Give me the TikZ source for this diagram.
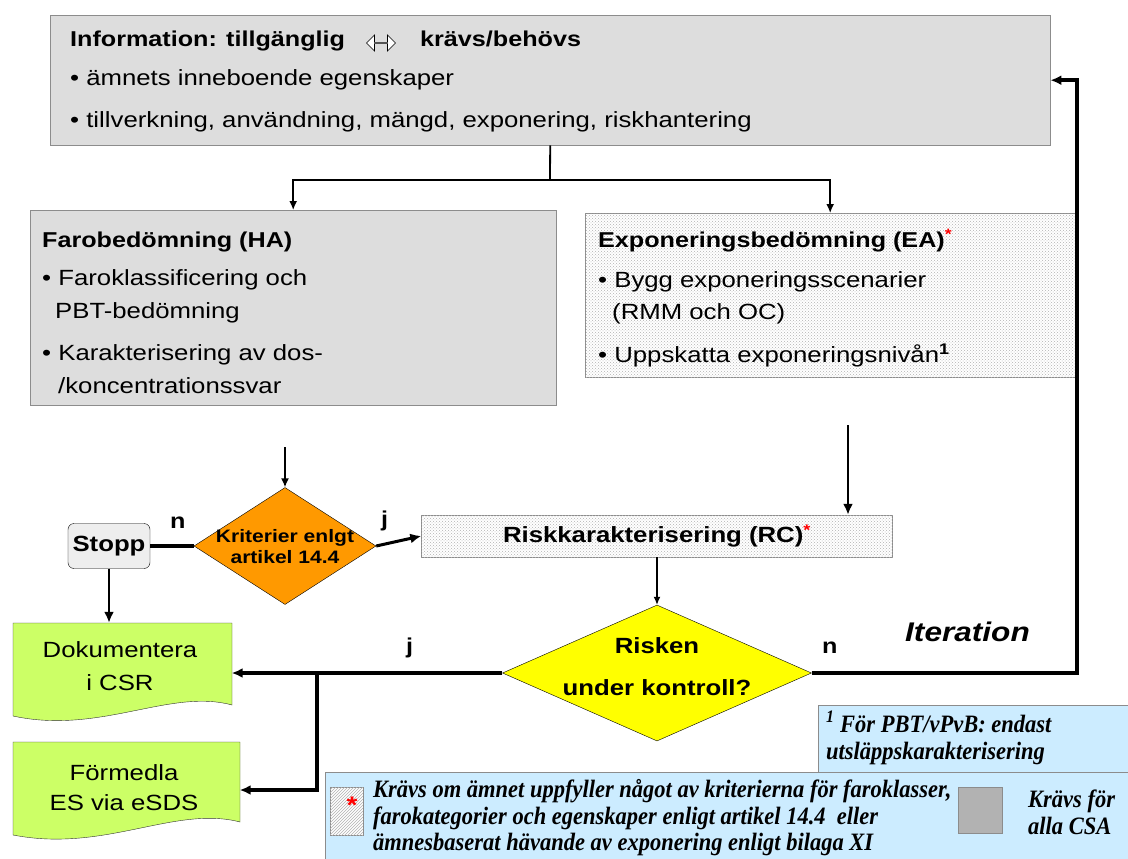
\documentclass[tikz,border=0pt]{standalone}
\usepackage{fontspec}
\setmainfont{Liberation Sans}[FakeStretch=1.17]
\newfontfamily\timesfont{Liberation Serif}[FakeStretch=0.9]
\usetikzlibrary{shapes.geometric,shapes.arrows,patterns,arrows.meta}

\definecolor{boxgray}{HTML}{DDDDDD}
\definecolor{stoppgray}{HTML}{EEEEEE}
\definecolor{kritorange}{HTML}{FF9900}
\definecolor{riskyellow}{HTML}{FFFF00}
\definecolor{docgreen}{HTML}{CCFF66}
\definecolor{noteblue}{HTML}{CCECFF}
\definecolor{legendgray}{HTML}{B2B2B2}

\begin{document}
\begin{tikzpicture}[x=1pt,y=-1pt,
  every node/.style={inner sep=0pt},
  txt/.style={anchor=base west, font=\fontsize{22}{26}\selectfont},
  btxt/.style={anchor=base west, font=\fontsize{21.5}{26}\selectfont\bfseries},
  note/.style={anchor=base west, font=\fontsize{25}{27}\selectfont\timesfont\bfseries\itshape},
  graybox/.style={draw=gray!90, fill=boxgray, anchor=north west},
  dotbox/.style={draw=gray!90, fill=white, postaction={pattern=crosshatch dots, pattern color=gray!60}},
  bluebox/.style={draw=gray!90, fill=noteblue, anchor=north west},
  docshape/.style={draw=gray!40!black, fill=docgreen},
  arr/.style={-{Latex[length=9pt,width=8pt]}, line width=1.5pt},
  bigarr/.style={-{Latex[length=11pt,width=10pt]}},
  redstar/.style={text=red, font=\fontsize{24}{26}\selectfont\bfseries}
]
\useasboundingbox (0,0) rectangle (1128,859);

% Information box
\node[graybox, minimum width=1000, minimum height=130] (info) at (50,15) {};
\node[btxt] (infotitle) at (70,47) {Information: tillgänglig};
\node[double arrow, draw, fill=white, line width=0.7pt, minimum height=29, minimum width=16, double arrow head extend=4pt] (infoarrow) at (381,43) {};
\node[btxt] (infokravs) at (420,47) {krävs/behövs};
\node[txt] (info1) at (70,85) {• ämnets inneboende egenskaper};
\node[txt] (info2) at (70,128) {• tillverkning, användning, mängd, exponering, riskhantering};

% HA box
\node[graybox, minimum width=526, minimum height=195] (ha) at (30,210) {};
\node[btxt] (hatitle) at (42,247) {Farobedömning (HA)};
\node[txt] (ha1) at (42,285) {• Faroklassificering och};
\node[txt] (ha1b) at (55,318) {PBT-bedömning};
\node[txt] (ha2) at (42,360) {• Karakterisering av dos-};
\node[txt] (ha2b) at (58,393) {/koncentrationssvar};

% EA box
\node[dotbox, anchor=north west, minimum width=490, minimum height=164] (ea) at (585,213) {};
\node[btxt] (eatitle) at (598,247) {Exponeringsbedömning (EA)\textcolor{red}{\textsuperscript{*}}};
\node[txt] (ea1) at (598,287) {• Bygg exponeringsscenarier};
\node[txt] (ea1b) at (612,319) {(RMM och OC)};
\node[txt] (ea2) at (598,362) {• Uppskatta exponeringsnivån\textsuperscript{\bfseries 1}};

% split from Information
\coordinate (split) at (550,180);
\draw[line width=1.8pt] (info.south) -- (split);
\draw[arr] (split) -| (ha.north);
\draw[arr] (split) -| (ea.north);

% criteria, stopp and RC
\node[diamond, draw, fill=kritorange, minimum width=182, minimum height=117] (krit) at (285,546) {};
\node[align=center, font=\fontsize{18}{21}\selectfont\bfseries] (kritlbl) at (285,547) {Kriterier enlgt\\artikel 14.4};
\node[draw, rounded corners=6pt, fill=stoppgray, minimum width=82, minimum height=45, font=\fontsize{22}{26}\selectfont\bfseries] (stopp) at (109,546) {Stopp};
\node[dotbox, minimum width=471, minimum height=42, font=\fontsize{22}{26}\selectfont\bfseries] (rc) at (657,536) {Riskkarakterisering (RC)\textcolor{red}{\textsuperscript{*}}};
\coordinate (hain) at (285,447);
\coordinate (eain) at (848,425);
\draw[arr] (hain) -- (krit.north);
\draw[bigarr, line width=2.5pt] (eain) -- (eain |- rc.north);
\draw[line width=4pt] (krit.west) -- (stopp.east);
\draw[bigarr, line width=3pt] (krit.east) -- (rc.west);
\node[btxt] (kritn) at (170,528) {n};
\node[btxt] (kritj) at (381,526) {j};

% risk decision
\node[diamond, draw, fill=riskyellow, minimum width=309, minimum height=136] (risk) at (657,673) {};
\node[align=center, font=\fontsize{22}{42}\selectfont\bfseries] (risklbl) at (657,667) {Risken\\under kontroll?};
\draw[-{Latex[length=8pt,width=7pt]}, line width=1.2pt] (rc.south) -- (risk.north);
\node[btxt] (riskj) at (406,653) {j};
\node[btxt] (riskn) at (822,653) {n};
\node[anchor=base west, font=\fontsize{27}{30}\selectfont\bfseries\itshape] (iter) at (905,641) {Iteration};
\draw[bigarr, line width=3.5pt] (risk.east) -- (1077,673) |- (info.east);

% documents
\draw[docshape] (13,623) -- (232,623) -- (232,705) .. controls (170,688) and (100,735) .. (13,716) -- cycle;
\draw[docshape] (13,742) -- (240,742) -- (240,822) .. controls (175,805) and (105,853) .. (13,835) -- cycle;
\node[minimum width=219, minimum height=100] (dok) at (122,673) {};
\node[align=center, font=\fontsize{22}{33}\selectfont] (doklbl) at (120,666) {Dokumentera\\i CSR};
\node[minimum width=227, minimum height=96] (form) at (126,790) {};
\node[align=center, font=\fontsize{22}{30}\selectfont] (formlbl) at (124,788) {Förmedla\\ES via eSDS};
\draw[bigarr, line width=3.5pt] (risk.west) -- (dok.east);
\coordinate (branch) at (317,673);
\draw[bigarr, line width=3.5pt] (branch) |- (form.east);
\draw[bigarr, line width=2.5pt] (stopp.south) -- (stopp.south |- dok.north);

% footnote
\node[bluebox, minimum width=310, minimum height=67] (fotnot) at (818,705) {};
\node[note] (fotnot1) at (826,732) {\textsuperscript{1} För PBT/vPvB: endast};
\node[note] (fotnot2) at (826,759) {utsläppskarakterisering};

% legend
\node[bluebox, minimum width=803, minimum height=88] (legend) at (325,772) {};
\node[draw=gray!90, fill=white, postaction={pattern=north east lines, pattern color=gray!60}, minimum width=33, minimum height=48, anchor=north west] (hatch) at (330,787) {};
\node[redstar] (hatchstar) at (352,805) {*};
\node[note] (leg1) at (373,797) {Krävs om ämnet uppfyller något av kriterierna för faroklasser,};
\node[note] (leg2) at (373,824) {farokategorier och egenskaper enligt artikel 14.4\ \ eller};
\node[note] (leg3) at (373,850) {ämnesbaserat hävande av exponering enligt bilaga XI};
\node[draw=gray!90, fill=legendgray, minimum width=44, minimum height=46, anchor=north west] (allbox) at (958,787) {};
\node[note] (alla1) at (1028,807) {Krävs för};
\node[note] (alla2) at (1028,834) {alla CSA};

\end{tikzpicture}
\end{document}
